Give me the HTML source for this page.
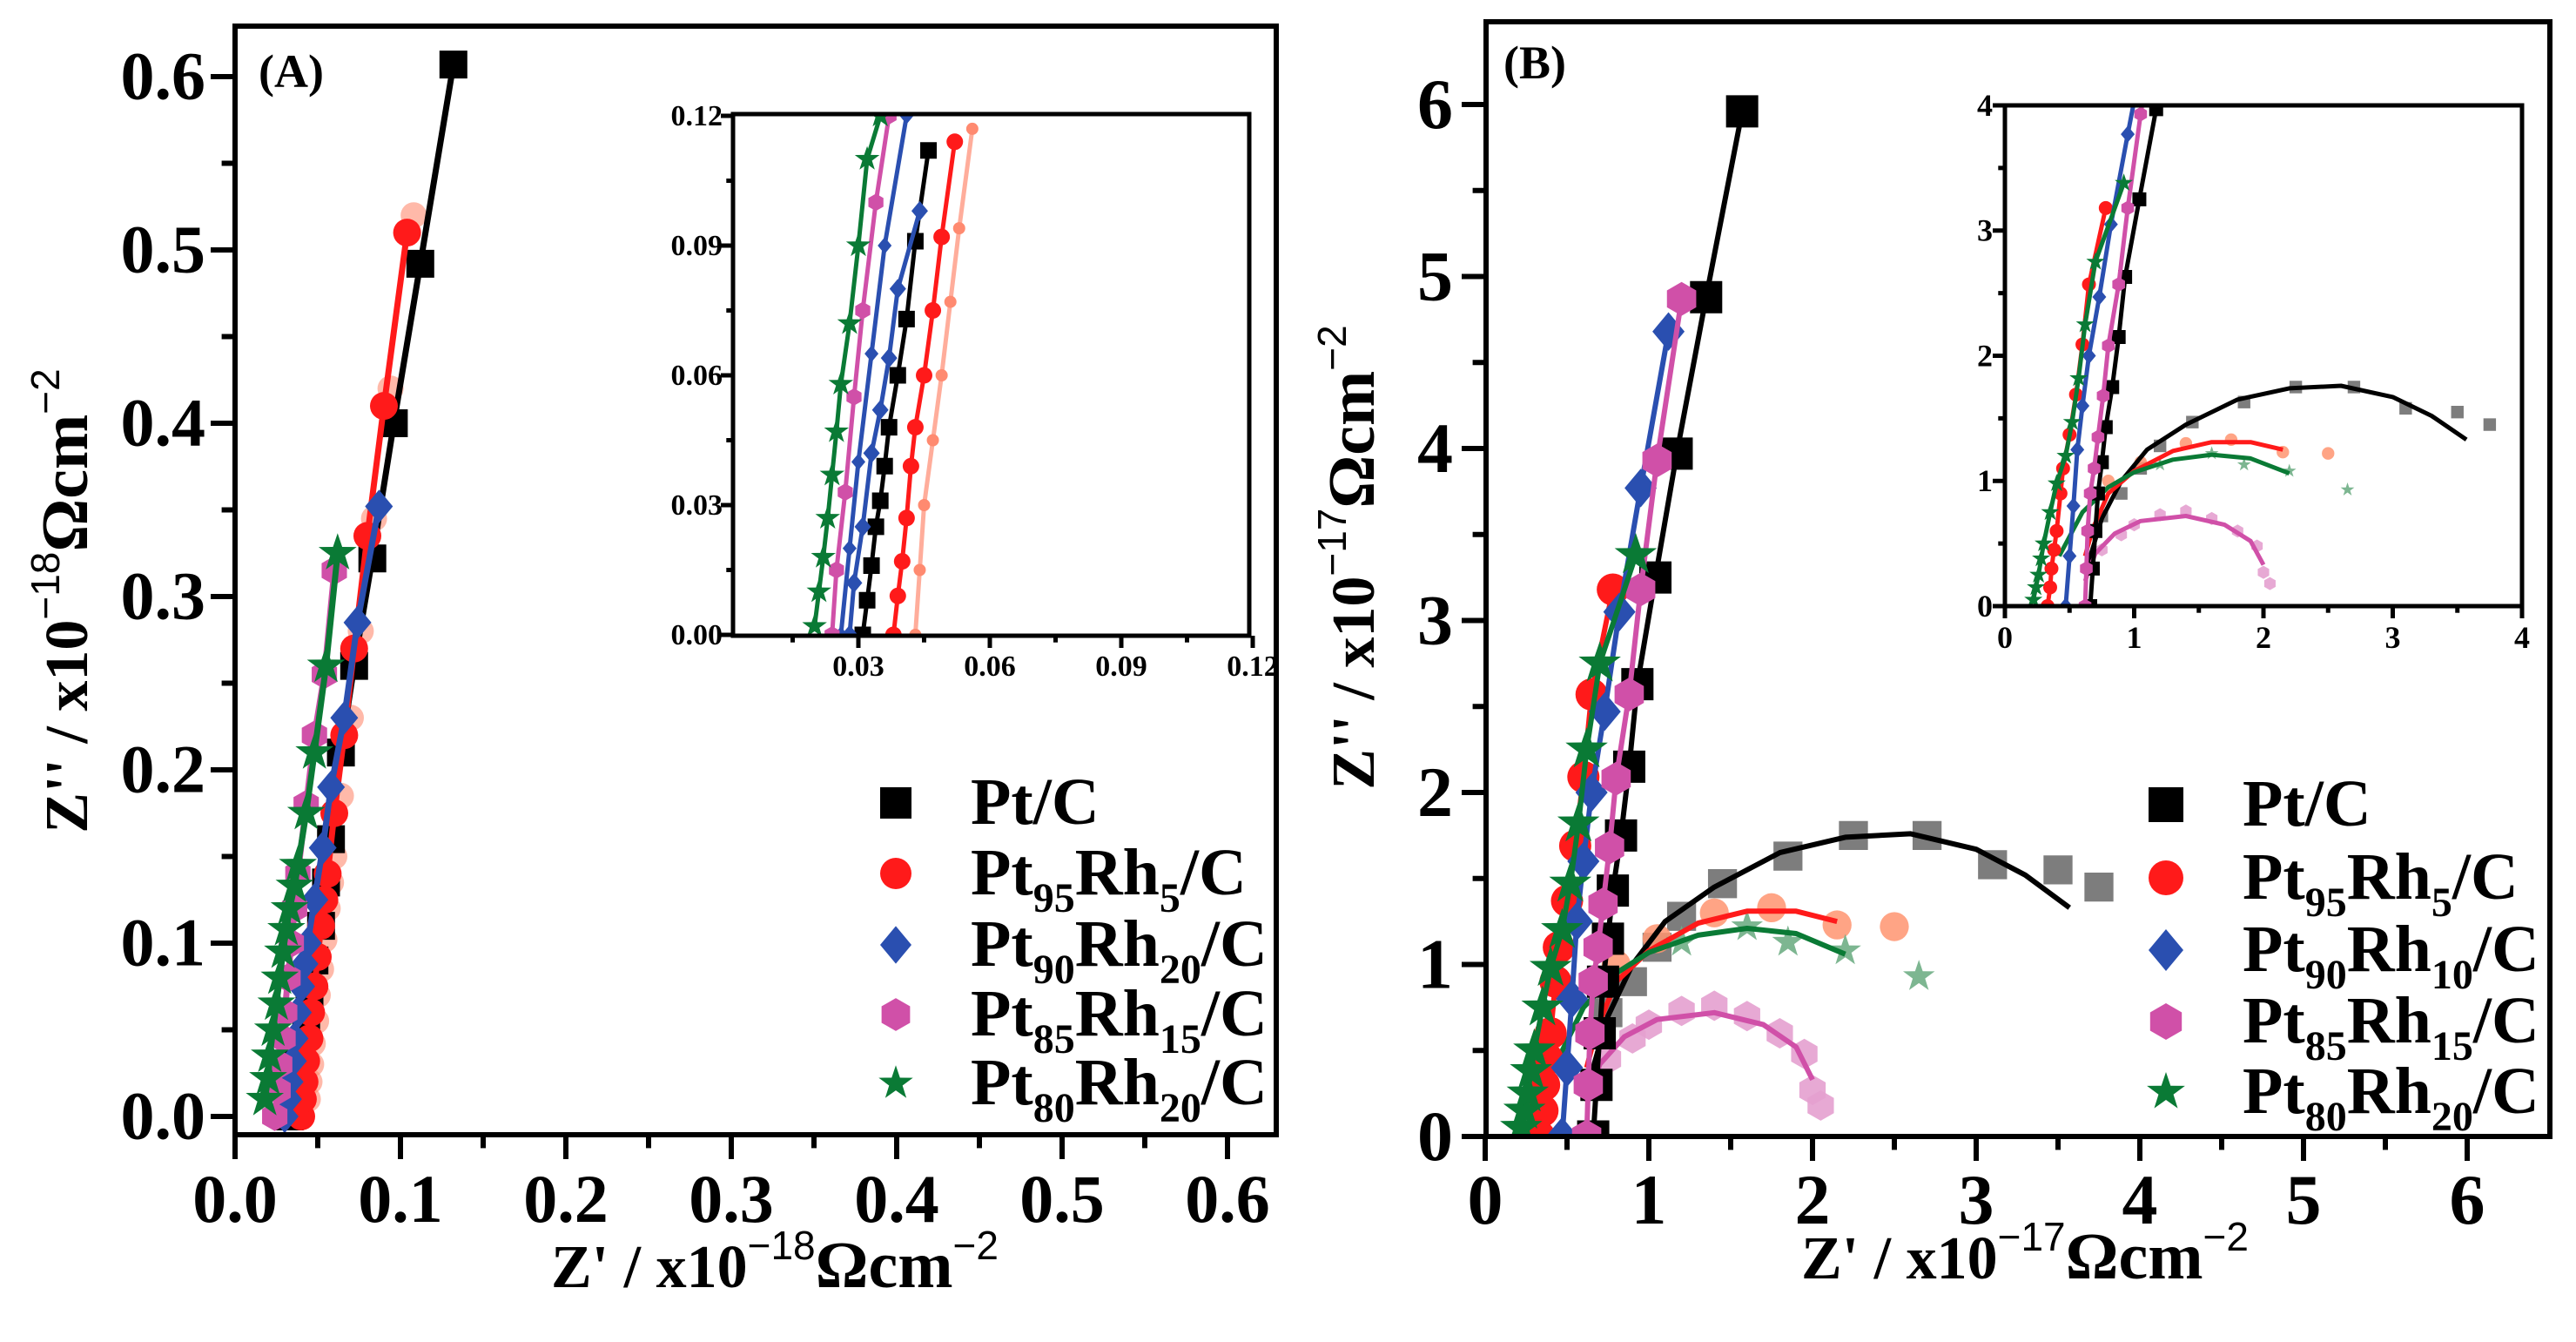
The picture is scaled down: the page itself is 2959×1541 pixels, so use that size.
<!DOCTYPE html>
<html><head><meta charset="utf-8"><style>
html,body{margin:0;padding:0;background:#fff}
svg{display:block}
text{font-family:"Liberation Serif",serif;font-weight:bold}
</style></head><body>
<svg id="fig" width="2959" height="1541" viewBox="0 0 2959 1541" xmlns="http://www.w3.org/2000/svg">
<defs>
<clipPath id="clipA"><rect x="270" y="30" width="1196" height="1273"/></clipPath>
<clipPath id="clipAi"><rect x="842" y="131" width="593" height="599"/></clipPath>
<clipPath id="clipB"><rect x="1707" y="25" width="1222" height="1280"/></clipPath>
<clipPath id="clipBi"><rect x="2303" y="121" width="594" height="575"/></clipPath>
</defs>
</svg>
<script>
// ---------- Panel A data (x10^-18 Ohm cm^-2) ----------
const seriesNames = ["Pt/C","Pt95Rh5/C","Pt90Rh10/C","Pt85Rh15/C","Pt80Rh20/C"];
const colors = ["#000000","#ff1a1a","#2a4fb0","#d050a8","#0a7a35"];
const shapes = ["square","circle","diamond","hexagon","star"];

const aX_black = [0.033,0.034,0.036,0.038,0.040,0.043,0.045,0.048,0.052,0.055,0.058,0.064,0.072,0.083,0.096,0.112,0.132];
const aY_black = [0.000,0.010,0.020,0.030,0.040,0.055,0.070,0.090,0.110,0.135,0.160,0.210,0.260,0.322,0.400,0.492,0.607];
const aX_red = [0.040,0.041,0.042,0.043,0.045,0.046,0.048,0.050,0.052,0.054,0.056,0.060,0.066,0.072,0.080,0.090,0.104];
const aY_red = [0.000,0.010,0.020,0.032,0.045,0.060,0.075,0.092,0.110,0.125,0.140,0.175,0.220,0.270,0.335,0.410,0.510];
const aX_blue = [0.030,0.032,0.033,0.035,0.036,0.038,0.040,0.042,0.044,0.048,0.053,0.058,0.066,0.074,0.087];
const aY_blue = [0.000,0.010,0.020,0.032,0.045,0.060,0.075,0.088,0.100,0.125,0.155,0.190,0.230,0.285,0.352,0.435];
const aX_mag = [0.024,0.026,0.027,0.029,0.030,0.032,0.034,0.036,0.038,0.043,0.048,0.054,0.060];
const aY_mag = [0.000,0.015,0.030,0.045,0.060,0.080,0.100,0.120,0.140,0.180,0.220,0.255,0.315];
const aX_green = [0.018,0.020,0.021,0.023,0.025,0.027,0.029,0.031,0.033,0.036,0.038,0.043,0.048,0.055,0.062];
const aY_green = [0.010,0.022,0.035,0.050,0.065,0.080,0.095,0.108,0.120,0.133,0.145,0.175,0.210,0.260,0.325];

// inset A (zoomed start)
const aiX_black = [0.031,0.032,0.033,0.034,0.035,0.036,0.037,0.039,0.041,0.043,0.046];
const aiY_black = [0.000,0.008,0.016,0.025,0.031,0.039,0.048,0.060,0.073,0.091,0.112];
const aiX_red = [0.038,0.039,0.040,0.041,0.042,0.043,0.045,0.047,0.049,0.052];
const aiY_red = [0.000,0.009,0.017,0.027,0.039,0.048,0.060,0.075,0.092,0.114];
const aiX_redf = [0.043,0.044,0.045,0.047,0.049,0.051,0.053,0.056];
const aiY_redf = [0.000,0.015,0.030,0.045,0.060,0.077,0.094,0.117];
const aiX_blue = [0.028,0.029,0.031,0.033,0.035,0.037,0.039,0.044];
const aiY_blue = [0.000,0.012,0.025,0.042,0.052,0.064,0.080,0.098];
const aiX_blue2 = [0.026,0.028,0.030,0.033,0.036,0.041];
const aiY_blue2 = [0.000,0.020,0.040,0.065,0.090,0.120];
const aiX_mag = [0.024,0.025,0.027,0.029,0.031,0.034,0.037];
const aiY_mag = [0.000,0.015,0.033,0.055,0.075,0.100,0.120];
const aiX_green = [0.020,0.021,0.022,0.023,0.024,0.025,0.026,0.028,0.030,0.032,0.035];
const aiY_green = [0.002,0.010,0.018,0.027,0.037,0.047,0.058,0.072,0.090,0.110,0.120];

// ---------- Panel B data (x10^-17 Ohm cm^-2) ----------
const bX_black = [0.66,0.68,0.70,0.72,0.75,0.78,0.83,0.88,0.93,1.04,1.17,1.35,1.57];
const bY_black = [0.00,0.30,0.60,0.90,1.15,1.43,1.75,2.15,2.63,3.25,3.97,4.88,5.96];
const bX_red = [0.33,0.35,0.36,0.38,0.40,0.43,0.45,0.50,0.55,0.60,0.65,0.78];
const bY_red = [0.00,0.15,0.30,0.45,0.60,0.90,1.10,1.37,1.69,2.09,2.57,3.18];
const bX_blue = [0.47,0.50,0.53,0.56,0.60,0.65,0.73,0.82,0.95,1.12];
const bY_blue = [0.00,0.40,0.80,1.25,1.60,2.00,2.47,3.05,3.77,4.68];
const bX_mag = [0.62,0.63,0.64,0.66,0.69,0.72,0.76,0.80,0.88,0.95,1.05,1.20];
const bY_mag = [0.00,0.30,0.60,0.90,1.10,1.35,1.68,2.08,2.57,3.18,3.93,4.87];
const bX_green = [0.22,0.24,0.26,0.28,0.30,0.35,0.40,0.47,0.52,0.57,0.62,0.70,0.92];
const bY_green = [0.05,0.15,0.25,0.38,0.50,0.75,0.98,1.20,1.47,1.82,2.25,2.75,3.38];
// semicircle fits
const bfX_black = [0.63,0.75,0.90,1.10,1.40,1.80,2.20,2.60,3.00,3.30,3.57];
const bfY_black = [0.30,0.70,1.00,1.25,1.45,1.65,1.74,1.76,1.67,1.52,1.33];
const bfX_red = [0.62,0.68,0.80,1.00,1.30,1.60,1.90,2.15];
const bfY_red = [0.40,0.62,0.90,1.08,1.24,1.31,1.31,1.25];
const bfX_green = [0.42,0.60,0.80,1.00,1.30,1.60,1.90,2.20];
const bfY_green = [0.40,0.75,0.95,1.07,1.17,1.21,1.18,1.06];
const bfX_mag = [0.62,0.70,0.85,1.05,1.40,1.70,1.90,2.00];
const bfY_mag = [0.20,0.42,0.58,0.68,0.72,0.65,0.52,0.33];
// faded measured points on arcs
const bpX_black = [0.75,0.90,1.05,1.20,1.45,1.85,2.25,2.70,3.10,3.50,3.75];
const bpY_black = [0.72,0.90,1.10,1.28,1.47,1.63,1.75,1.75,1.58,1.55,1.45];
const bpX_red = [0.80,1.05,1.40,1.75,2.15,2.50];
const bpY_red = [1.00,1.15,1.30,1.33,1.23,1.22];
const bpX_mag = [0.68,0.75,0.90,1.00,1.20,1.40,1.60,1.80,1.95,2.00,2.05];
const bpY_mag = [0.30,0.45,0.57,0.65,0.73,0.76,0.70,0.60,0.48,0.27,0.18];
const bpX_green = [1.20,1.60,1.85,2.20,2.65];
const bpY_green = [1.13,1.22,1.13,1.08,0.93];

const NS = "http://www.w3.org/2000/svg";
const svg = document.getElementById('fig');
function mk(tag, attrs, parent){
  const e = document.createElementNS(NS, tag);
  for (const k in attrs) e.setAttribute(k, attrs[k]);
  (parent||svg).appendChild(e);
  return e;
}
function scale(d0,d1,p0,p1){ return v => p0 + (v-d0)/(d1-d0)*(p1-p0); }

function markerPath(shape, cx, cy, s){
  const r = s/2;
  if (shape==="square") return `M${cx-r},${cy-r}h${s}v${s}h${-s}Z`;
  if (shape==="diamond") return `M${cx},${cy-r*1.2}L${cx+r*1.0},${cy}L${cx},${cy+r*1.2}L${cx-r*1.0},${cy}Z`;
  if (shape==="circle") return `M${cx-r},${cy}a${r},${r} 0 1,0 ${s},0a${r},${r} 0 1,0 ${-s},0Z`;
  if (shape==="hexagon"){ let p=""; for(let i=0;i<6;i++){const a=Math.PI/3*i+Math.PI/6; p+=(i?"L":"M")+(cx+r*1.05*Math.cos(a))+","+(cy+r*1.05*Math.sin(a));} return p+"Z"; }
  if (shape==="star"){ let p=""; for(let i=0;i<10;i++){const a=-Math.PI/2+Math.PI/5*i; const rr=i%2?r*0.45:r*1.15; p+=(i?"L":"M")+(cx+rr*Math.cos(a))+","+(cy+rr*Math.sin(a));} return p+"Z"; }
}

function drawSeries(g, xs, ys, sx, sy, color, shape, msize, name, opts){
  opts = opts||{};
  if (opts.line!==false){
    let d = xs.map((x,i)=>(i?"L":"M")+sx(x).toFixed(1)+","+sy(ys[i]).toFixed(1)).join("");
    const l = mk('path',{d:d,fill:'none',stroke:color,'stroke-width':opts.lw||5,'stroke-linejoin':'round',opacity:opts.lineOpacity||1},g);
    
    
  }
  if (opts.markers!==false){
    xs.forEach((x,i)=>{
      const m = mk('path',{d:markerPath(shape,sx(x),sy(ys[i]),msize),fill:color,opacity:opts.mop||1},g);
      
      
    });
  }
}

function axes(cfg){
  const g = mk('g',{});
  
  
  const {L,R,T,B,sx,sy,xt,yt,xminor,yminor,lw,tl,fs,xfmt,yfmt,xlabDy,ylabDx} = cfg;
  mk('rect',{x:L,y:T,width:R-L,height:B-T,fill:'none',stroke:'#000','stroke-width':lw},g);
  xt.forEach(v=>{ const x=sx(v); mk('line',{x1:x,y1:B,x2:x,y2:B+tl,stroke:'#000','stroke-width':lw},g);
    const t=mk('text',{x:x,y:B+xlabDy,'font-size':fs,'text-anchor':'middle'},g); t.textContent=xfmt(v);
      });
  xminor.forEach(v=>{ const x=sx(v); mk('line',{x1:x,y1:B,x2:x,y2:B+tl*0.55,stroke:'#000','stroke-width':lw},g); });
  yt.forEach(v=>{ const y=sy(v); mk('line',{x1:L,y1:y,x2:L-tl,y2:y,stroke:'#000','stroke-width':lw},g);
    const t=mk('text',{x:L-ylabDx,y:y+fs*0.33,'font-size':fs,'text-anchor':'end'},g); t.textContent=yfmt(v);
      });
  yminor.forEach(v=>{ const y=sy(v); mk('line',{x1:L,y1:y,x2:L-tl*0.55,y2:y,stroke:'#000','stroke-width':lw},g); });
  return g;
}

function axisTitle(x,y,rot,prime,exp,name){
  const t = mk('text',{x:x,y:y,'font-size':70,'text-anchor':'middle',transform: rot?`rotate(-90 ${x} ${y})`:''});
  
  
  t.innerHTML = `Z${prime} / x10<tspan font-size="46" dy="-32" font-family="Liberation Sans,sans-serif" font-weight="normal">−${exp}</tspan><tspan dy="32" font-size="76">Ωcm</tspan><tspan font-size="46" dy="-32" font-family="Liberation Sans,sans-serif" font-weight="normal">−2</tspan>`;
}

function legend(x0,tx,ys,size,name){
  const g = mk('g',{});
  
  
  const labels = [
    ['Pt/C'],
    ['Pt','95','Rh','5','/C'],
    ['Pt','90','Rh', name==='legend-a'?'20':'10','/C'],
    ['Pt','85','Rh','15','/C'],
    ['Pt','80','Rh','20','/C']];
  ys.forEach((y,i)=>{
    const e = mk('g',{},g);
    
    
    mk('path',{d:markerPath(shapes[i],x0,y,size),fill:colors[i]},e);
    const t = mk('text',{x:tx,y:y+24,'font-size':76},e);
    const p = labels[i];
    if (p.length===1) t.textContent = p[0];
    else t.innerHTML = `${p[0]}<tspan font-size="48" dy="20">${p[1]}</tspan><tspan dy="-20">${p[2]}</tspan><tspan font-size="48" dy="20">${p[3]}</tspan><tspan dy="-20">${p[4]}</tspan>`;
  });
}

// ================= PANEL A =================
const sxA = scale(0,0.1,270,460), syA = scale(0,0.1,1282,1083);
const gA = mk('g',{'clip-path':'url(#clipA)'});
 
const aSets = [[aX_black,aY_black],[aX_red,aY_red],[aX_blue,aY_blue],[aX_mag,aY_mag],[aX_green,aY_green]];
drawSeries(gA, aX_red.map(v=>v+0.004), aY_red.map(v=>v+0.01), sxA, syA, '#ff8a70','circle',30,'pt95rh5-faded',{line:false,mop:0.6});
[0,1,2,3,4].forEach(i=>{ const s=aSets[i]; drawSeries(gA,s[0],s[1],sxA,syA,colors[i],shapes[i],i===4?40:32,'series-a-'+(i+1),{lw:7}); });
axes({name:'panel-a',L:270,R:1466,T:30,B:1303,sx:sxA,sy:syA,xt:[0,0.1,0.2,0.3,0.4,0.5,0.6],yt:[0,0.1,0.2,0.3,0.4,0.5,0.6],
  xminor:[0.05,0.15,0.25,0.35,0.45,0.55],yminor:[0.05,0.15,0.25,0.35,0.45,0.55],lw:6,tl:28,fs:78,
  xfmt:v=>v.toFixed(1),yfmt:v=>v.toFixed(1),xlabDy:100,ylabDx:34});
// inset A
const sxAi = scale(0.03,0.06,986,1137), syAi = scale(0,0.03,729,580);
const gAi = mk('g',{'clip-path':'url(#clipAi)'});
 
drawSeries(gAi,aiX_redf,aiY_redf,sxAi,syAi,'#ff8a70','circle',14,'inset-a-red-faded',{lw:5,lineOpacity:0.7});
drawSeries(gAi,aiX_blue2,aiY_blue2,sxAi,syAi,colors[2],'diamond',16,'inset-a-blue2',{lw:5});
const aiSets=[[aiX_black,aiY_black],[aiX_red,aiY_red],[aiX_blue,aiY_blue],[aiX_mag,aiY_mag],[aiX_green,aiY_green]];
[0,1,2,3,4].forEach(i=>{ const s=aiSets[i]; drawSeries(gAi,s[0],s[1],sxAi,syAi,colors[i],shapes[i],i===4?26:19,'inset-a-series-'+(i+1),{lw:5}); });
axes({name:'panel-a-inset',L:842,R:1435,T:131,B:730,sx:sxAi,sy:syAi,xt:[0.03,0.06,0.09,0.12],yt:[0,0.03,0.06,0.09,0.12],
  xminor:[0.015,0.045,0.075,0.105],yminor:[0.015,0.045,0.075,0.105],lw:5,tl:14,fs:34,
  xfmt:v=>v.toFixed(2),yfmt:v=>v.toFixed(2),xlabDy:46,ylabDx:12});
legend(1029,1115,[922,1003,1085,1165,1244],36,'legend-a');
axisTitle(890,1478,false,"'",'18','x-axis-title-a');
axisTitle(100,690,true,"''",'18','y-axis-title-a');
{const t=mk('text',{x:297,y:100,'font-size':54}); t.textContent='(A)';  }

// ================= PANEL B =================
const sxB = scale(0,1,1706,1894), syB = scale(0,1,1305,1107.5);
const gB = mk('g',{'clip-path':'url(#clipB)'});
 
function drawB(g,sx,sy,ms,lw){
  drawSeries(g,bpX_black,bpY_black,sx,sy,'#666','square',ms*0.9,'pt-c-arc-points',{line:false,mop:0.85});
  drawSeries(g,bpX_red,bpY_red,sx,sy,'#ff9470','circle',ms*0.9,'pt95rh5-arc-points',{line:false,mop:0.85});
  drawSeries(g,bpX_mag,bpY_mag,sx,sy,'#e4a0cf','hexagon',ms*0.9,'pt85rh15-arc-points',{line:false,mop:0.9});
  drawSeries(g,bpX_green,bpY_green,sx,sy,'#6fae85','star',ms*0.9,'pt80rh20-arc-points',{line:false,mop:0.9});
  drawSeries(g,bfX_black,bfY_black,sx,sy,'#000','square',0,'pt-c-fit',{markers:false,lw:lw});
  drawSeries(g,bfX_red,bfY_red,sx,sy,colors[1],'circle',0,'pt95rh5-fit',{markers:false,lw:lw});
  drawSeries(g,bfX_green,bfY_green,sx,sy,colors[4],'star',0,'pt80rh20-fit',{markers:false,lw:lw});
  drawSeries(g,bfX_mag,bfY_mag,sx,sy,colors[3],'hexagon',0,'pt85rh15-fit',{markers:false,lw:lw});
  const bs=[[bX_black,bY_black],[bX_red,bY_red],[bX_blue,bY_blue],[bX_mag,bY_mag],[bX_green,bY_green]];
  [0,1,2,3,4].forEach(i=>{ const s=bs[i]; drawSeries(g,s[0],s[1],sx,sy,colors[i],shapes[i],i===4?ms*1.2:ms,'series-b-'+(i+1),{lw:lw}); });
}
drawB(gB,sxB,syB,37,6);
axes({name:'panel-b',L:1707,R:2929,T:25,B:1305,sx:sxB,sy:syB,xt:[0,1,2,3,4,5,6],yt:[0,1,2,3,4,5,6],
  xminor:[0.5,1.5,2.5,3.5,4.5,5.5],yminor:[0.5,1.5,2.5,3.5,4.5,5.5],lw:6,tl:28,fs:82,
  xfmt:v=>String(v),yfmt:v=>String(v),xlabDy:100,ylabDx:38});
const sxBi = scale(0,4,2303,2897), syBi = scale(0,4,696,121);
const gBi = mk('g',{'clip-path':'url(#clipBi)'});
 
mk('rect',{x:2303,y:121,width:594,height:575,fill:'#fff'},gBi);
drawB(gBi,sxBi,syBi,16,5);
axes({name:'panel-b-inset',L:2303,R:2897,T:121,B:696,sx:sxBi,sy:syBi,xt:[0,1,2,3,4],yt:[0,1,2,3,4],
  xminor:[0.5,1.5,2.5,3.5],yminor:[0.5,1.5,2.5,3.5],lw:5,tl:14,fs:36,
  xfmt:v=>String(v),yfmt:v=>String(v),xlabDy:48,ylabDx:14});
legend(2488,2576,[924,1008,1091,1173,1254],40,'legend-b');
axisTitle(2326,1468,false,"'",'17','x-axis-title-b');
axisTitle(1578,640,true,"''",'17','y-axis-title-b');
{const t=mk('text',{x:1727,y:90,'font-size':54}); t.textContent='(B)';  }
</script>
</body></html>
